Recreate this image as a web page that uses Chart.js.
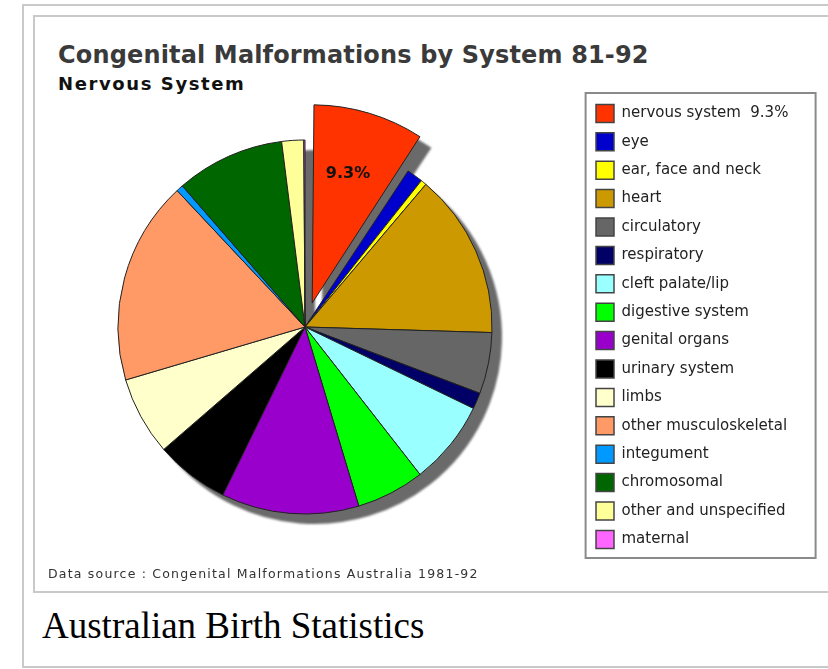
<!DOCTYPE html>
<html>
<head>
<meta charset="utf-8">
<title>Congenital Malformations by System 81-92</title>
<script src="https://cdn.jsdelivr.net/npm/chart.js@4.4.1/dist/chart.umd.min.js"></script>
<style>
  html, body { margin: 0; padding: 0; background: #fff; overflow: hidden; }
  body { width: 828px; height: 669px; position: relative; }
  .outer { position: absolute; left: 22px; top: 4px; width: 900px; height: 660px; border: 2px solid #c9c9c9; }
  .inner { position: absolute; left: 33px; top: 15px; width: 900px; height: 574px; border: 2px solid #c9c9c9; }
  .title { position: absolute; left: 58px; top: 43px; font: bold 24px/24px "DejaVu Sans"; letter-spacing: 0.15px; color: #3a3a3a; white-space: nowrap; }
  .subtitle { position: absolute; left: 58px; top: 75px; font: bold 18px/18px "DejaVu Sans"; letter-spacing: 1.6px; color: #111; white-space: nowrap; }
  .source { position: absolute; left: 48px; top: 568px; font: 12.5px/12px "DejaVu Sans"; letter-spacing: 1.2px; color: #333; white-space: nowrap; }
  .caption { position: absolute; left: 42px; top: 607px; font: 37px/37px "Liberation Serif"; color: #000; white-space: nowrap; }
  #chart1 { position: absolute; left: 0; top: 88px; }
</style>
</head>
<body>
<div class="outer"></div>
<div class="inner"></div>
<div class="title">Congenital Malformations by System 81-92</div>
<div class="subtitle">Nervous System</div>
<canvas id="chart1" width="828" height="479"></canvas>
<div class="source">Data source : Congenital Malformations Australia 1981-92</div>
<div class="caption">Australian Birth Statistics</div>

<script>
"use strict";

// data
var categories = [
  "nervous system",
  "eye",
  "ear, face and neck",
  "heart",
  "circulatory",
  "respiratory",
  "cleft palate/lip",
  "digestive system",
  "genital organs",
  "urinary system",
  "limbs",
  "other musculoskeletal",
  "integument",
  "chromosomal",
  "other and unspecified",
  "maternal",
];
var shares = [9.3, 1.4, 0.5, 14.3, 5.3, 1.4, 7.3, 5.9, 11.9, 6.4, 6.8, 17.6, 0.6, 9.4, 1.9, 0.1];
var explodedIndex = 0;

var sliceColors = [
  "#ff3300",
  "#0000cc",
  "#ffff00",
  "#cc9900",
  "#666666",
  "#000066",
  "#99ffff",
  "#00ff00",
  "#9900cc",
  "#000000",
  "#ffffcc",
  "#ff9966",
  "#0099ff",
  "#006600",
  "#ffff99",
  "#ff66ff",
];

var offsets = categories.map(function (c, i) {
  return i === explodedIndex ? 100 : 0;
});

function legendText(i) {
  return i === explodedIndex ? categories[i] + "  " + shares[i] + "%" : categories[i];
}

// legend width as chart.js measures it, so the pie keeps its place
var legendFont = { family: "DejaVu Sans", size: 15 };
var legendPad = 10.4;
var measure = document.createElement("canvas").getContext("2d");
measure.font = legendFont.size + "px '" + legendFont.family + "'";
var widest = 0;
categories.forEach(function (c, i) {
  widest = Math.max(widest, measure.measureText(legendText(i)).width);
});
var legendWidth = legendPad + 18 + legendFont.size / 2 + widest + 10;
var padRight = 828 - 585.6 - legendWidth;

// geometry of an arc as chart.js draws it (offset pulls it out and grows it)
function arcShape(arc) {
  var o = (arc.options.offset || 0) / 4;
  var mid = (arc.startAngle + arc.endAngle) / 2;
  var circ = arc.endAngle - arc.startAngle;
  var fix = 1 - Math.sin(Math.min(Math.PI, circ));
  return {
    x: arc.x + Math.cos(mid) * o,
    y: arc.y + Math.sin(mid) * o,
    r: arc.outerRadius + o * fix,
    mid: mid,
  };
}

// gray drop shadow under every slice
var pieShadow = {
  id: "pieShadow",
  beforeDatasetsDraw: function (chart) {
    var ctx = chart.ctx;
    var meta = chart.getDatasetMeta(0);
    ctx.save();
    ctx.fillStyle = "#6a6a6a";
    ctx.filter = "blur(1px)";
    ctx.beginPath();
    meta.data.forEach(function (arc) {
      var s = arcShape(arc);
      ctx.moveTo(s.x + 10, s.y + 10);
      ctx.arc(s.x + 10, s.y + 10, s.r, arc.startAngle, arc.endAngle);
      ctx.closePath();
    });
    ctx.fill();
    ctx.restore();
  },
};

// percentage on the pulled-out slice
var sliceLabel = {
  id: "sliceLabel",
  afterDatasetsDraw: function (chart) {
    var ctx = chart.ctx;
    var s = arcShape(chart.getDatasetMeta(0).data[explodedIndex]);
    var r = s.r * 0.68;
    ctx.save();
    ctx.font = "bold 16px 'DejaVu Sans'";
    ctx.fillStyle = "#111";
    ctx.textAlign = "center";
    ctx.textBaseline = "middle";
    ctx.fillText(shares[explodedIndex] + "%", s.x + Math.cos(s.mid) * r - 3, s.y + Math.sin(s.mid) * r);
    ctx.restore();
  },
};

// frame round the legend
var legendFrame = {
  id: "legendFrame",
  afterDraw: function (chart) {
    var lg = chart.legend;
    var ctx = chart.ctx;
    ctx.save();
    ctx.strokeStyle = "#8a8a8a";
    ctx.lineWidth = 2;
    ctx.strokeRect(lg.left, lg.top - 1, 230, 465);
    ctx.restore();
  },
};

var ctx = document.getElementById("chart1").getContext("2d");
var myChart = new Chart(ctx, {
  type: "pie",
  data: {
    labels: categories,
    datasets: [
      {
        data: shares,
        backgroundColor: sliceColors,
        borderColor: "#222",
        borderWidth: 1,
        offset: offsets,
        hoverOffset: 0,
        radius: 187,
      },
    ],
  },
  plugins: [pieShadow, sliceLabel, legendFrame],
  options: {
    responsive: false,
    animation: false,
    events: [],
    layout: {
      padding: { left: 24.4, right: padRight, top: 6, bottom: 7 },
    },
    plugins: {
      tooltip: { enabled: false },
      legend: {
        position: "right",
        align: "start",
        labels: {
          boxWidth: 18,
          boxHeight: 18,
          padding: legendPad,
          color: "#222",
          font: legendFont,
          generateLabels: function (chart) {
            var items = Chart.overrides.pie.plugins.legend.labels.generateLabels(chart);
            items.forEach(function (it, i) {
              it.strokeStyle = "#444";
              it.lineWidth = 1.5;
              it.text = legendText(i);
            });
            return items;
          },
        },
      },
    },
  },
});
</script>
</body>
</html>
